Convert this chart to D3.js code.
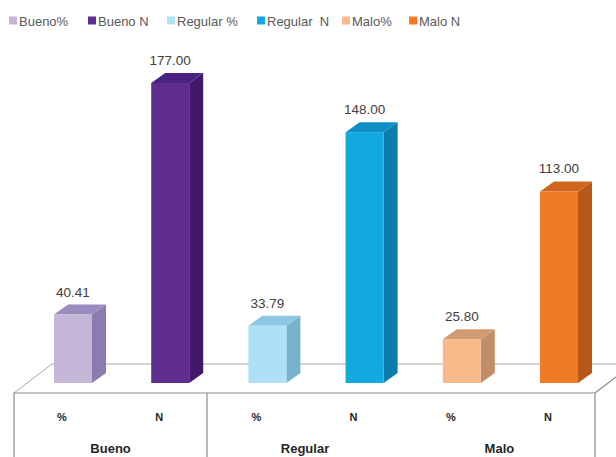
<!DOCTYPE html>
<html lang="es">
<head>
  <meta charset="UTF-8">
  <title>Bueno / Regular / Malo</title>
  <style>
    body { margin: 0; background: #fff; }
    text { font-family: "Liberation Sans", Arial, sans-serif; }
  </style>
</head>
<body>
  <svg id="svg" width="616" height="457"></svg>

  <script src="https://d3js.org/d3.v7.min.js"></script>
  <script>
    // data
    const groups = ['Bueno', 'Regular', 'Malo']
    const subLabels = ['%', 'N']
    const seriesNames = ['Bueno%', 'Bueno N', 'Regular %', 'Regular  N', 'Malo%', 'Malo N']
    const values = [40.41, 177.00, 33.79, 148.00, 25.80, 113.00]

    // front / side / top shades per bar
    const frontColor = ['#c3b6d7', '#5f2d8f', '#aee1f7', '#12a9e1', '#f8ba8b', '#f07b24']
    const sideColor  = ['#8a7cae', '#40196a', '#7ab2cc', '#0a7dab', '#c18e67', '#b6581a']
    const topColor   = ['#9a8cbe', '#4c2280', '#8cc6e0', '#0d8ec4', '#d29b72', '#d0661e']

    const svg = d3.select('#svg')

    const x = d3.scalePoint()
      .domain(seriesNames)
      .range([73, 559])

    const y = d3.scaleLinear()
      .domain([0, 177])
      .range([383, 83])

    const barW = 38
    const dx = 14, dy = -10

    // floor
    const floor = svg.append('g')
    floor.append('path')
      .attr('d', 'M14,393 L52,364 L616,364')
      .attr('fill', 'none').attr('stroke', '#a6a6a6').attr('stroke-width', 1)
    floor.append('path')
      .attr('d', 'M14,457 L14,393 L595,393 L595,457 M595,393 L620,374')
      .attr('fill', 'none').attr('stroke', '#8c8c8c').attr('stroke-width', 1.2)
    floor.append('line')
      .attr('x1', 207).attr('x2', 207).attr('y1', 393).attr('y2', 457)
      .attr('stroke', '#8c8c8c').attr('stroke-width', 1.2)

    // bars
    const bars = svg.selectAll('g.bar')
      .data(values)
      .enter()
      .append('g')
      .attr('class', 'bar')

    bars.append('path')
      .attr('d', (d, i) => {
        const x1 = x(seriesNames[i]) + barW / 2
        return `M${x1},${y(0)} L${x1 + dx},${y(0) + dy} L${x1 + dx},${y(d) + dy} L${x1},${y(d)} Z`
      })
      .attr('fill', (d, i) => sideColor[i])

    bars.append('path')
      .attr('d', (d, i) => {
        const x0 = x(seriesNames[i]) - barW / 2
        const x1 = x0 + barW
        return `M${x0},${y(d)} L${x0 + dx},${y(d) + dy} L${x1 + dx},${y(d) + dy} L${x1},${y(d)} Z`
      })
      .attr('fill', (d, i) => topColor[i])

    bars.append('rect')
      .attr('x', (d, i) => x(seriesNames[i]) - barW / 2)
      .attr('y', d => y(d))
      .attr('width', barW)
      .attr('height', d => y(0) - y(d))
      .attr('fill', (d, i) => frontColor[i])

    bars.append('text')
      .attr('x', (d, i) => x(seriesNames[i]))
      .attr('y', d => y(d) - 18)
      .attr('text-anchor', 'middle')
      .attr('font-size', 13.5)
      .attr('fill', '#404040')
      .text(d => d.toFixed(2))

    // category axis
    svg.selectAll('text.sub')
      .data(seriesNames)
      .enter()
      .append('text')
      .attr('class', 'sub')
      .attr('x', d => x(d) - 11)
      .attr('y', 421)
      .attr('text-anchor', 'middle')
      .attr('font-size', 11)
      .attr('font-weight', 'bold')
      .attr('fill', '#262626')
      .text((d, i) => subLabels[i % 2])

    svg.selectAll('text.grp')
      .data(groups)
      .enter()
      .append('text')
      .attr('class', 'grp')
      .attr('x', (d, i) => (x(seriesNames[2 * i]) + x(seriesNames[2 * i + 1])) / 2 - 11)
      .attr('y', 453)
      .attr('text-anchor', 'middle')
      .attr('font-size', 13)
      .attr('font-weight', 'bold')
      .attr('fill', '#262626')
      .text(d => d)

    // legend
    const legendX = [9, 88, 167, 257, 342, 409]
    const legend = svg.selectAll('g.leg')
      .data(seriesNames)
      .enter()
      .append('g')
      .attr('class', 'leg')
      .attr('transform', (d, i) => `translate(${legendX[i]},21)`)
    legend.append('rect')
      .attr('x', 0).attr('y', -4.5)
      .attr('width', 8).attr('height', 8)
      .attr('fill', (d, i) => frontColor[i])
    legend.append('text')
      .attr('x', 10).attr('y', 4.5)
      .attr('font-size', 13)
      .attr('fill', '#595959')
      .style('white-space', 'pre')
      .text(d => d)
  </script>
</body>
</html>
